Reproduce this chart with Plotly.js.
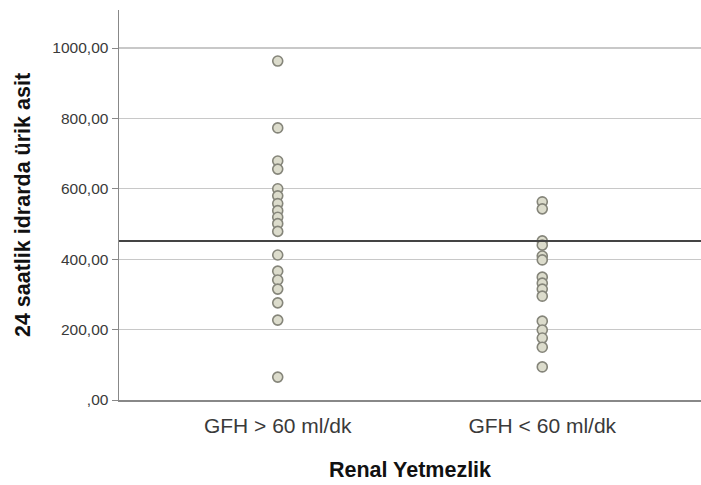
<!DOCTYPE html>
<html>
<head>
<meta charset="utf-8">
<script src="https://cdn.plot.ly/plotly-3.0.1.min.js"></script>
<style>html,body{margin:0;padding:0;background:#fff;}#chart{width:701px;height:485px;}</style>
</head>
<body>
<div id="chart"></div>
<script>
const categories = ["GFH > 60 ml/dk", "GFH < 60 ml/dk"];
const group1Values = [963, 773, 679, 656, 600, 580, 558, 538, 519, 501, 479, 412, 366, 341, 315, 276, 227, 65];
const group2Values = [563, 543, 452, 440, 409, 398, 349, 332, 315, 295, 224, 199, 176, 150, 94];
const meanValue = [452];
const yTickVals = [0, 200, 400, 600, 800, 1000];
const yTickText = [",00", "200,00", "400,00", "600,00", "800,00", "1000,00"];

const xs = [], ys = [];
group1Values.forEach(v => { xs.push(0); ys.push(v); });
group2Values.forEach(v => { xs.push(1); ys.push(v); });

const data = [{
  type: "scatter", mode: "markers", x: xs, y: ys,
  marker: {size: 10, color: "#dcdccc", line: {color: "#85857a", width: 1.6}},
  hoverinfo: "skip", showlegend: false
}];

const layout = {
  width: 701, height: 485,
  margin: {l: 119, r: 0, t: 10, b: 85},
  paper_bgcolor: "#fff", plot_bgcolor: "#fff",
  font: {family: "Liberation Sans, Arial, sans-serif", color: "#333"},
  xaxis: {
    range: [-0.6, 1.6], tickvals: [0, 1], ticktext: categories,
    showgrid: false, zeroline: false, showline: true, linecolor: "#888", linewidth: 1.5,
    ticks: "", tickfont: {size: 21, color: "#3a3a3a"}, ticklabelstandoff: 6,
    title: {text: "<b>Renal Yetmezlik</b>", font: {size: 21.5, color: "#111"}, standoff: 26}
  },
  yaxis: {
    range: [0, 1108], tickvals: yTickVals, ticktext: yTickText,
    showgrid: true, gridcolor: "#c8c8c8", gridwidth: 1.2, zeroline: false,
    showline: true, linecolor: "#888", linewidth: 1.5,
    ticks: "outside", ticklen: 6, tickcolor: "#888", tickfont: {size: 15.5, color: "#3a3a3a"},
    title: {text: "<b>24 saatlik idrarda ürik asit</b>", font: {size: 21.5, color: "#111"}, standoff: 16}
  },
  shapes: [{
    type: "line", xref: "paper", yref: "y", x0: 0, x1: 1, y0: meanValue[0], y1: meanValue[0],
    line: {color: "#444", width: 2}
  }]
};

Plotly.newPlot("chart", data, layout, {displayModeBar: false, staticPlot: true});
</script>
</body>
</html>
